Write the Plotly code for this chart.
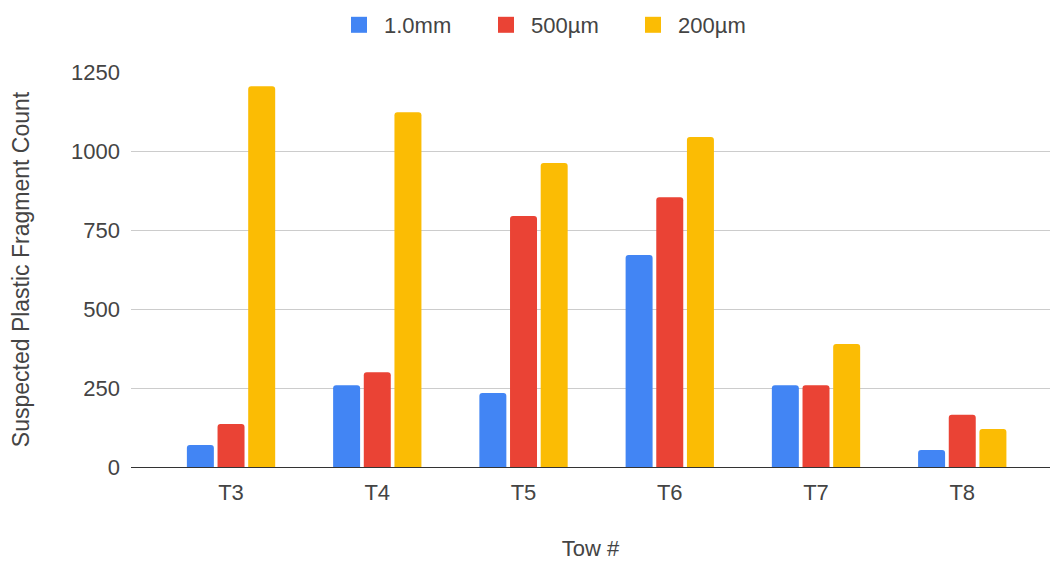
import plotly.graph_objects as go

# Tow samples and suspected plastic fragment counts per mesh size
tows = ["T3", "T4", "T5", "T6", "T7", "T8"]
count_1mm = [70, 259, 234, 671, 259, 54]
count_500um = [136, 300, 794, 854, 259, 165]
count_200um = [1205, 1123, 962, 1044, 389, 120]
y_ticks = [0, 250, 500, 750, 1000, 1250]

series = [
    ("1.0mm", count_1mm, "#4285F4"),
    ("500µm", count_500um, "#EA4335"),
    ("200µm", count_200um, "#FBBC04"),
]

FONT = "Liberation Sans, Arial, sans-serif"
TEXT = "#444444"
FS = 22

fig = go.Figure()
for name, vals, color in series:
    fig.add_trace(go.Bar(
        x=tows, y=vals, name=name, showlegend=False,
        marker=dict(color=color, line=dict(width=0)),
    ))
# square swatches for the legend
for name, vals, color in series:
    fig.add_trace(go.Scatter(
        x=[None], y=[None], name=name, mode="markers",
        marker=dict(symbol="square", size=16, color=color),
    ))

fig.update_layout(
    width=1055, height=561,
    margin=dict(l=131, r=5, t=72, b=94),
    paper_bgcolor="white", plot_bgcolor="white",
    font=dict(family=FONT, size=FS, color=TEXT),
    barmode="group", bargap=0.371, bargroupgap=0.12,
    barcornerradius=3,
    showlegend=True,
    legend=dict(
        orientation="h", xref="container", x=334 / 1055, xanchor="left",
        y=1 - 4 / 561, yanchor="top", yref="container",
        font=dict(size=FS, color=TEXT),
        itemsizing="trace", itemwidth=40, traceorder="normal",
        entrywidth=92, entrywidthmode="pixels",
    ),
    xaxis=dict(
        type="category", range=[-0.684, 5.6], automargin=False,
        showgrid=False, showline=True, linecolor="#333333", linewidth=1,
        ticks="", tickfont=dict(size=FS, color=TEXT), ticklabelstandoff=6,
        title=dict(text="Tow #", font=dict(size=FS, color=TEXT), standoff=38),
    ),
    yaxis=dict(
        range=[0, 1250], tickvals=y_ticks, automargin=False,
        showgrid=True, gridcolor="#cccccc", gridwidth=1, zeroline=False,
        ticks="", tickfont=dict(size=FS, color=TEXT), ticklabelstandoff=10,
        title=dict(text="Suspected Plastic Fragment Count",
                   font=dict(size=FS + 1, color=TEXT), standoff=34),
    ),
)

fig.write_html("out.html")
